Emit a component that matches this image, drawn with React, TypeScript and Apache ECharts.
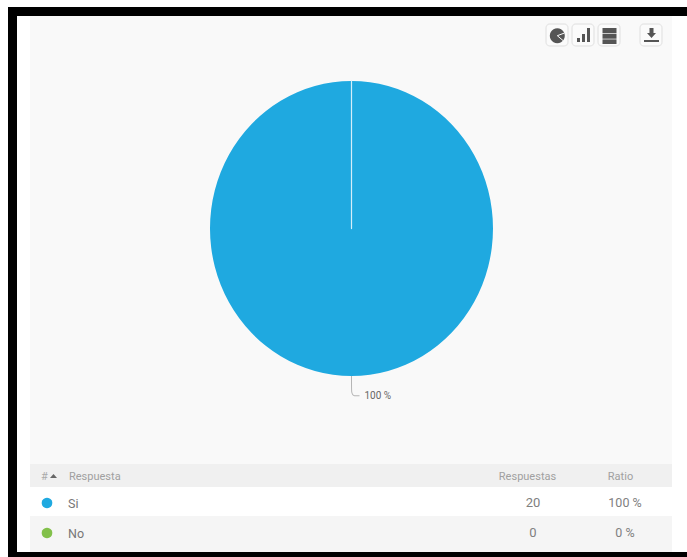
import React, { useEffect, useRef } from "react";
import * as echarts from "echarts";

const answers = ["Si", "No"];
const counts = [20, 0];
const ratios = ["100 %", "0 %"];
const colors = ["#1fa9e0", "#82c04a"];
const headers = ["#", "Respuesta", "Respuestas", "Ratio"];
const FONT = "Roboto, sans-serif";

const rowTop = [487, 516];
const rowHeight = [29, 36];
const rowText = [502, 532];
const rowFill = ["#ffffff", "#f5f5f5"];

// The pie sits slightly taller than wide, so its layer is stretched about its centre.
const PIE_CENTER_Y = 228.5;
const PIE_STRETCH = 1.0424;

function toolButton(x: number, children: any[]) {
  return {
    type: "group",
    x,
    y: 24,
    children: [
      {
        type: "rect",
        shape: { x: 0, y: 0, width: 22, height: 22, r: 4 },
        style: { fill: "#fbfbfb", stroke: "#e8e8e8", lineWidth: 1.5 },
      },
      ...children,
    ],
  };
}

function bar(x: number, y: number, width: number, height: number) {
  return { type: "rect", shape: { x, y, width, height }, style: { fill: "#555555" } };
}

function label(text: string, x: number, y: number, fill: string, size: number, align = "left") {
  return {
    type: "text",
    x,
    y,
    style: { text, fill, fontSize: size, fontFamily: FONT, align, verticalAlign: "middle" },
  };
}

export default function App() {
  const backRef = useRef<HTMLDivElement>(null);
  const pieRef = useRef<HTMLDivElement>(null);

  useEffect(() => {
    document.body.style.margin = "0";
    const back = echarts.init(backRef.current!, null, { renderer: "svg" });
    const pie = echarts.init(pieRef.current!, null, { renderer: "svg" });

    const rows = answers.flatMap((name, i) => [
      { type: "rect", shape: { x: 30, y: rowTop[i], width: 642, height: rowHeight[i] }, style: { fill: rowFill[i] } },
      { type: "circle", shape: { cx: 47, cy: rowText[i] + 1, r: 5.3 }, style: { fill: colors[i] } },
      label(name, 68, rowText[i] + 1, "#777777", 12.5),
      label(String(counts[i]), 533, rowText[i], "#808080", 13, "center"),
      label(ratios[i], 625, rowText[i], "#808080", 12.5, "center"),
    ]);

    back.setOption({
      animation: false,
      backgroundColor: "#ffffff",
      graphic: [
        // panel behind the pie and the table
        { type: "rect", z: -1, shape: { x: 30, y: 16, width: 642, height: 536 }, style: { fill: "#f9f9f9" } },
        // heavy frame: top, left, bottom
        { type: "rect", shape: { x: 8, y: 7, width: 679, height: 9 }, style: { fill: "#000000" } },
        { type: "rect", shape: { x: 8, y: 7, width: 9, height: 550 }, style: { fill: "#000000" } },
        { type: "rect", shape: { x: 8, y: 552, width: 679, height: 5 }, style: { fill: "#000000" } },
        // table header
        { type: "rect", shape: { x: 30, y: 464, width: 642, height: 23 }, style: { fill: "#f0f0f0" } },
        label(headers[0], 41, 476, "#aaaaaa", 11),
        { type: "polygon", shape: { points: [[50, 478], [53.5, 474], [57, 478]] }, style: { fill: "#666666" } },
        label(headers[1], 69, 476, "#a0a0a0", 11),
        label(headers[2], 527.5, 476, "#a0a0a0", 11, "center"),
        label(headers[3], 620.5, 476, "#a0a0a0", 11, "center"),
        ...rows,
        // pie view button
        toolButton(546, [
          { type: "circle", shape: { cx: 11.3, cy: 11.7, r: 7.5 }, style: { fill: "#555555" } },
          { type: "line", shape: { x1: 11.3, y1: 11.7, x2: 18.5, y2: 9 }, style: { stroke: "#fbfbfb", lineWidth: 1 } },
          { type: "line", shape: { x1: 11.3, y1: 11.7, x2: 17, y2: 16.5 }, style: { stroke: "#fbfbfb", lineWidth: 1 } },
        ]),
        // bar view button
        toolButton(572, [bar(5, 14, 3, 4), bar(10, 10, 3, 8), bar(15, 4, 3, 14)]),
        // table view button
        toolButton(598, [bar(4.5, 4, 14, 5), bar(4.5, 9.7, 14, 5), bar(4.5, 15.4, 14, 4.6)]),
        // download button
        toolButton(640, [
          { type: "polygon", shape: { points: [[9.5, 4], [13.5, 4], [13.5, 9], [16, 9], [11.5, 14], [7, 9], [9.5, 9]] }, style: { fill: "#555555" } },
          bar(4, 16, 15, 2),
        ]),
      ],
    });

    pie.setOption({
      animation: false,
      series: [
        {
          type: "pie",
          center: [351.5, PIE_CENTER_Y],
          radius: [0, 141.5],
          startAngle: 90,
          clockwise: true,
          // the empty slice collapses to a pale hairline running from the centre to the top
          data: answers.map((name, i) => ({
            name,
            value: counts[i],
            itemStyle:
              counts[i] > 0
                ? { color: colors[i], borderWidth: 0 }
                : { color: colors[i], borderColor: "#d4eef9", borderWidth: 1.2 },
            label: { show: counts[i] > 0 },
            labelLine: { show: counts[i] > 0 },
          })),
          label: {
            formatter: (p: any) => ratios[p.dataIndex],
            color: "#666666",
            fontSize: 10,
            fontFamily: FONT,
          },
          labelLine: {
            length: 19,
            length2: 8,
            smooth: 0.3,
            lineStyle: { color: "#b5b5b5", width: 1 },
          },
        },
      ],
    });
    return () => {
      back.dispose();
      pie.dispose();
    };
  }, []);

  return (
    <div style={{ position: "relative", width: 687, height: 557, overflow: "hidden" }}>
      <div ref={backRef} style={{ position: "absolute", left: 0, top: 0, width: 687, height: 557 }} />
      <div
        ref={pieRef}
        style={{
          position: "absolute",
          left: 0,
          top: 0,
          width: 687,
          height: 557,
          transform: `scaleY(${PIE_STRETCH})`,
          transformOrigin: `0 ${PIE_CENTER_Y}px`,
        }}
      />
    </div>
  );
}
